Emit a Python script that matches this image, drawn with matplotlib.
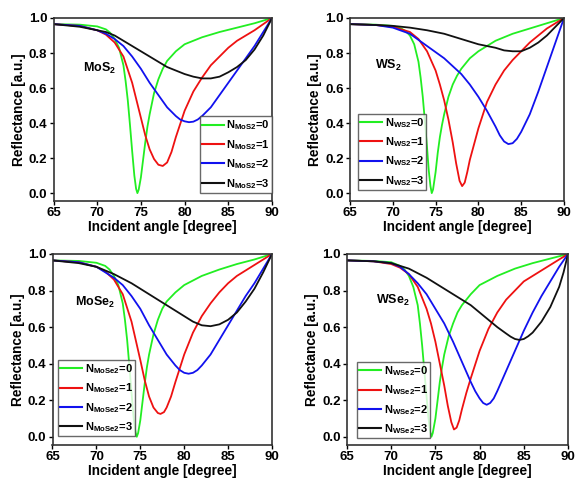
import matplotlib
matplotlib.use("Agg")
import matplotlib.pyplot as plt

plt.rcParams['font.family'] = ['Liberation Sans', 'DejaVu Sans']
plt.rcParams['font.weight'] = 'bold'
plt.rcParams['mathtext.fontset'] = 'custom'
plt.rcParams['mathtext.rm'] = 'Liberation Sans:bold'
plt.rcParams['mathtext.it'] = 'Liberation Sans:bold'
plt.rcParams['mathtext.bf'] = 'Liberation Sans:bold'

# ---------------- data ----------------
# MoS2
mos2_x0 = [65, 68, 70, 71, 71.5, 72, 72.5, 73, 73.25, 73.5, 73.75, 74, 74.25, 74.45, 74.6, 74.75, 75, 75.25, 75.5, 75.75, 76, 76.5, 77, 77.5, 78, 79, 80, 82, 84, 86, 88, 90]
mos2_y0 = [0.965, 0.962, 0.952, 0.935, 0.915, 0.88, 0.83, 0.73, 0.64, 0.53, 0.39, 0.24, 0.10, 0.025, 0.0, 0.02, 0.09, 0.19, 0.29, 0.38, 0.45, 0.57, 0.65, 0.71, 0.755, 0.81, 0.85, 0.89, 0.92, 0.945, 0.97, 1.0]
mos2_x1 = [65, 68, 70, 71, 72, 73, 74, 75, 75.5, 76, 76.5, 77, 77.5, 78, 78.5, 79, 80, 81, 82, 83, 84, 85, 86, 88, 90]
mos2_y1 = [0.965, 0.955, 0.93, 0.905, 0.86, 0.78, 0.63, 0.43, 0.33, 0.25, 0.195, 0.162, 0.155, 0.175, 0.235, 0.32, 0.47, 0.58, 0.66, 0.73, 0.78, 0.83, 0.87, 0.93, 1.0]
mos2_x2 = [65, 68, 70, 71, 72, 73, 74, 75, 76, 77, 78, 79, 79.5, 80, 80.5, 81, 81.5, 82, 83, 84, 85, 86, 87, 88, 89, 90]
mos2_y2 = [0.965, 0.955, 0.93, 0.91, 0.88, 0.84, 0.78, 0.71, 0.63, 0.56, 0.49, 0.44, 0.42, 0.41, 0.405, 0.408, 0.42, 0.44, 0.49, 0.56, 0.63, 0.70, 0.77, 0.84, 0.92, 1.0]
mos2_x3 = [65, 68, 70, 71, 72, 73, 74, 75, 76, 77, 78, 79, 80, 81, 82, 83, 84, 85, 86, 87, 88, 89, 90]
mos2_y3 = [0.965, 0.95, 0.93, 0.92, 0.90, 0.87, 0.84, 0.81, 0.78, 0.75, 0.72, 0.70, 0.68, 0.665, 0.655, 0.655, 0.665, 0.69, 0.72, 0.76, 0.82, 0.90, 1.0]

# WS2
ws2_x0 = [65, 68, 70, 71, 71.5, 72, 72.5, 73, 73.25, 73.5, 73.75, 74, 74.2, 74.4, 74.55, 74.7, 75, 75.25, 75.5, 75.75, 76, 76.5, 77, 77.5, 78, 79, 80, 82, 84, 86, 88, 90]
ws2_y0 = [0.965, 0.962, 0.955, 0.94, 0.925, 0.90, 0.85, 0.75, 0.66, 0.55, 0.41, 0.26, 0.13, 0.04, 0.0, 0.02, 0.12, 0.23, 0.32, 0.39, 0.45, 0.55, 0.62, 0.67, 0.71, 0.77, 0.81, 0.87, 0.91, 0.94, 0.97, 1.0]
ws2_x1 = [65, 68, 70, 72, 73, 74, 75, 75.5, 76, 76.5, 77, 77.4, 77.8, 78.1, 78.4, 78.7, 79, 79.5, 80, 81, 82, 83, 84, 85, 86, 87, 88, 89, 90]
ws2_y1 = [0.965, 0.96, 0.95, 0.92, 0.88, 0.81, 0.70, 0.62, 0.53, 0.42, 0.29, 0.17, 0.07, 0.04, 0.06, 0.12, 0.19, 0.28, 0.37, 0.52, 0.62, 0.70, 0.76, 0.81, 0.86, 0.90, 0.94, 0.97, 1.0]
ws2_x2 = [65, 68, 70, 72, 74, 76, 78, 79, 80, 81, 82, 82.5, 83, 83.5, 84, 84.5, 85, 86, 87, 88, 89, 90]
ws2_y2 = [0.965, 0.96, 0.945, 0.91, 0.84, 0.77, 0.68, 0.62, 0.55, 0.47, 0.38, 0.33, 0.295, 0.28, 0.285, 0.31, 0.35, 0.45, 0.58, 0.72, 0.86, 1.0]
ws2_x3 = [65, 68, 70, 72, 74, 76, 78, 80, 82, 83, 84, 85, 86, 87, 88, 89, 90]
ws2_y3 = [0.965, 0.96, 0.955, 0.945, 0.93, 0.91, 0.88, 0.85, 0.83, 0.815, 0.81, 0.81, 0.83, 0.86, 0.90, 0.95, 1.0]

# MoSe2
mose2_x0 = [65, 68, 70, 71, 71.5, 72, 72.5, 73, 73.25, 73.5, 73.75, 74, 74.25, 74.45, 74.6, 74.75, 75, 75.25, 75.5, 75.75, 76, 76.5, 77, 77.5, 78, 79, 80, 82, 84, 86, 88, 90]
mose2_y0 = [0.965, 0.962, 0.952, 0.935, 0.915, 0.88, 0.83, 0.73, 0.64, 0.53, 0.39, 0.24, 0.10, 0.025, 0.0, 0.02, 0.09, 0.19, 0.29, 0.38, 0.45, 0.56, 0.64, 0.70, 0.74, 0.79, 0.83, 0.88, 0.915, 0.945, 0.97, 1.0]
mose2_x1 = [65, 68, 70, 71, 72, 73, 74, 75, 75.5, 76, 76.5, 77, 77.3, 77.7, 78, 78.5, 79, 80, 81, 82, 83, 84, 85, 86, 88, 90]
mose2_y1 = [0.965, 0.955, 0.93, 0.905, 0.86, 0.78, 0.63, 0.42, 0.31, 0.22, 0.16, 0.13, 0.125, 0.135, 0.16, 0.22, 0.30, 0.45, 0.57, 0.66, 0.73, 0.79, 0.84, 0.88, 0.94, 1.0]
mose2_x2 = [65, 68, 70, 72, 73, 74, 75, 76, 77, 78, 79, 79.5, 80, 80.5, 81, 81.5, 82, 83, 84, 85, 86, 87, 88, 89, 90]
mose2_y2 = [0.965, 0.955, 0.93, 0.87, 0.83, 0.77, 0.70, 0.61, 0.53, 0.45, 0.39, 0.365, 0.35, 0.345, 0.35, 0.365, 0.39, 0.45, 0.53, 0.61, 0.69, 0.77, 0.84, 0.92, 1.0]
mose2_x3 = [65, 68, 70, 72, 74, 76, 77, 78, 79, 80, 81, 82, 83, 84, 85, 86, 87, 88, 89, 90]
mose2_y3 = [0.965, 0.95, 0.93, 0.89, 0.84, 0.78, 0.75, 0.72, 0.69, 0.66, 0.63, 0.61, 0.605, 0.615, 0.64, 0.68, 0.74, 0.81, 0.90, 1.0]

# WSe2
wse2_x0 = [65, 68, 70, 71, 71.5, 72, 72.5, 73, 73.25, 73.5, 73.75, 74, 74.2, 74.4, 74.55, 74.7, 75, 75.25, 75.5, 75.75, 76, 76.5, 77, 77.5, 78, 79, 80, 82, 84, 86, 88, 90]
wse2_y0 = [0.965, 0.962, 0.955, 0.935, 0.915, 0.88, 0.82, 0.72, 0.62, 0.50, 0.36, 0.22, 0.11, 0.03, 0.0, 0.02, 0.10, 0.20, 0.30, 0.38, 0.45, 0.55, 0.62, 0.68, 0.72, 0.78, 0.83, 0.88, 0.92, 0.95, 0.975, 1.0]
wse2_x1 = [65, 68, 70, 71, 72, 73, 74, 74.5, 75, 75.5, 76, 76.4, 76.8, 77.1, 77.4, 77.7, 78, 78.5, 79, 80, 81, 82, 83, 84, 85, 86, 88, 90]
wse2_y1 = [0.965, 0.96, 0.945, 0.925, 0.89, 0.82, 0.70, 0.62, 0.52, 0.40, 0.28, 0.17, 0.08, 0.04, 0.05, 0.09, 0.15, 0.24, 0.32, 0.47, 0.59, 0.68, 0.75, 0.80, 0.85, 0.88, 0.94, 1.0]
wse2_x2 = [65, 68, 70, 71, 72, 73, 74, 75, 76, 77, 78, 79, 79.5, 80, 80.4, 80.8, 81.2, 81.6, 82, 83, 84, 85, 86, 87, 88, 89, 90]
wse2_y2 = [0.965, 0.96, 0.95, 0.93, 0.89, 0.84, 0.78, 0.70, 0.62, 0.52, 0.41, 0.30, 0.25, 0.21, 0.185, 0.175, 0.185, 0.21, 0.25, 0.36, 0.47, 0.58, 0.68, 0.77, 0.85, 0.93, 1.0]
wse2_x3 = [65, 68, 70, 72, 74, 76, 78, 79, 80, 81, 82, 83, 83.5, 84, 84.5, 85, 85.5, 86, 87, 88, 89, 89.5, 90]
wse2_y3 = [0.965, 0.96, 0.95, 0.92, 0.87, 0.81, 0.75, 0.72, 0.68, 0.64, 0.60, 0.565, 0.548, 0.535, 0.53, 0.535, 0.55, 0.57, 0.63, 0.71, 0.82, 0.90, 1.0]

colors = ['#22ee22', '#ee1111', '#1111ee', '#111111']
xticks = [65, 70, 75, 80, 85, 90]
yticks = [0.0, 0.2, 0.4, 0.6, 0.8, 1.0]

panels = [
    dict(rect=(53.5, 18, 272, 201), name='MoS$_2$', sub='MoS2',
         xs=[mos2_x0, mos2_x1, mos2_x2, mos2_x3], ys=[mos2_y0, mos2_y1, mos2_y2, mos2_y3],
         lab=(68.4, 0.71), leg=('lower right', (1.0, 0.045))),
    dict(rect=(350, 18, 564, 201), name='WS$_2$', sub='WS2',
         xs=[ws2_x0, ws2_x1, ws2_x2, ws2_x3], ys=[ws2_y0, ws2_y1, ws2_y2, ws2_y3],
         lab=(67.9, 0.73), leg=('lower left', (0.037, 0.06))),
    dict(rect=(52.5, 254, 272, 445), name='MoSe$_2$', sub='MoSe2',
         xs=[mose2_x0, mose2_x1, mose2_x2, mose2_x3], ys=[mose2_y0, mose2_y1, mose2_y2, mose2_y3],
         lab=(67.6, 0.735), leg=('lower left', (0.025, 0.045))),
    dict(rect=(347, 254, 568, 445), name='WSe$_2$', sub='WSe2',
         xs=[wse2_x0, wse2_x1, wse2_x2, wse2_x3], ys=[wse2_y0, wse2_y1, wse2_y2, wse2_y3],
         lab=(68.3, 0.745), leg=('lower left', (0.045, 0.035))),
]

W, H = 575, 483
fig = plt.figure(figsize=(W / 100, H / 100), dpi=100)

for p in panels:
    l, t, r, b = p['rect']
    ax = fig.add_axes([l / W, 1 - b / H, (r - l) / W, (b - t) / H])
    for i in range(4):
        ax.plot(p['xs'][i], p['ys'][i], color=colors[i], lw=1.3,
                solid_joinstyle='round',
                label=r'N$_{\mathregular{%s}}$=%d' % (p['sub'], i))
    ax.set_xlim(65, 90)
    ax.set_ylim(-0.045, 1.0)
    ax.set_xticks(xticks)
    ax.set_yticks(yticks)
    ax.set_yticklabels(['%.1f' % v for v in yticks])
    ax.tick_params(direction='out', length=3, width=1.0, labelsize=9.5, pad=1.5)
    for s in ax.spines.values():
        s.set_linewidth(1.2)
        s.set_color('#333333')
    ax.set_xlabel('Incident angle [degree]', fontsize=9.8, fontweight='bold', labelpad=0.5)
    ax.set_ylabel('Reflectance [a.u.]', fontsize=9.8, fontweight='bold', labelpad=2)
    ax.text(p['lab'][0], p['lab'][1], p['name'], fontsize=9, fontweight='bold', va='center', ha='left')
    leg = ax.legend(loc=p['leg'][0], bbox_to_anchor=p['leg'][1], fontsize=8,
                    frameon=True, fancybox=False, borderaxespad=0, borderpad=0.2,
                    handlelength=2.0, handletextpad=0.2, labelspacing=0.5,
                    handleheight=0.7)
    leg._legend_box.sep = 0
    leg.get_frame().set_edgecolor('#444444')
    leg.get_frame().set_linewidth(1.0)
    for ln in leg.get_lines():
        ln.set_linewidth(1.5)

fig.savefig('out.png', dpi=100)
